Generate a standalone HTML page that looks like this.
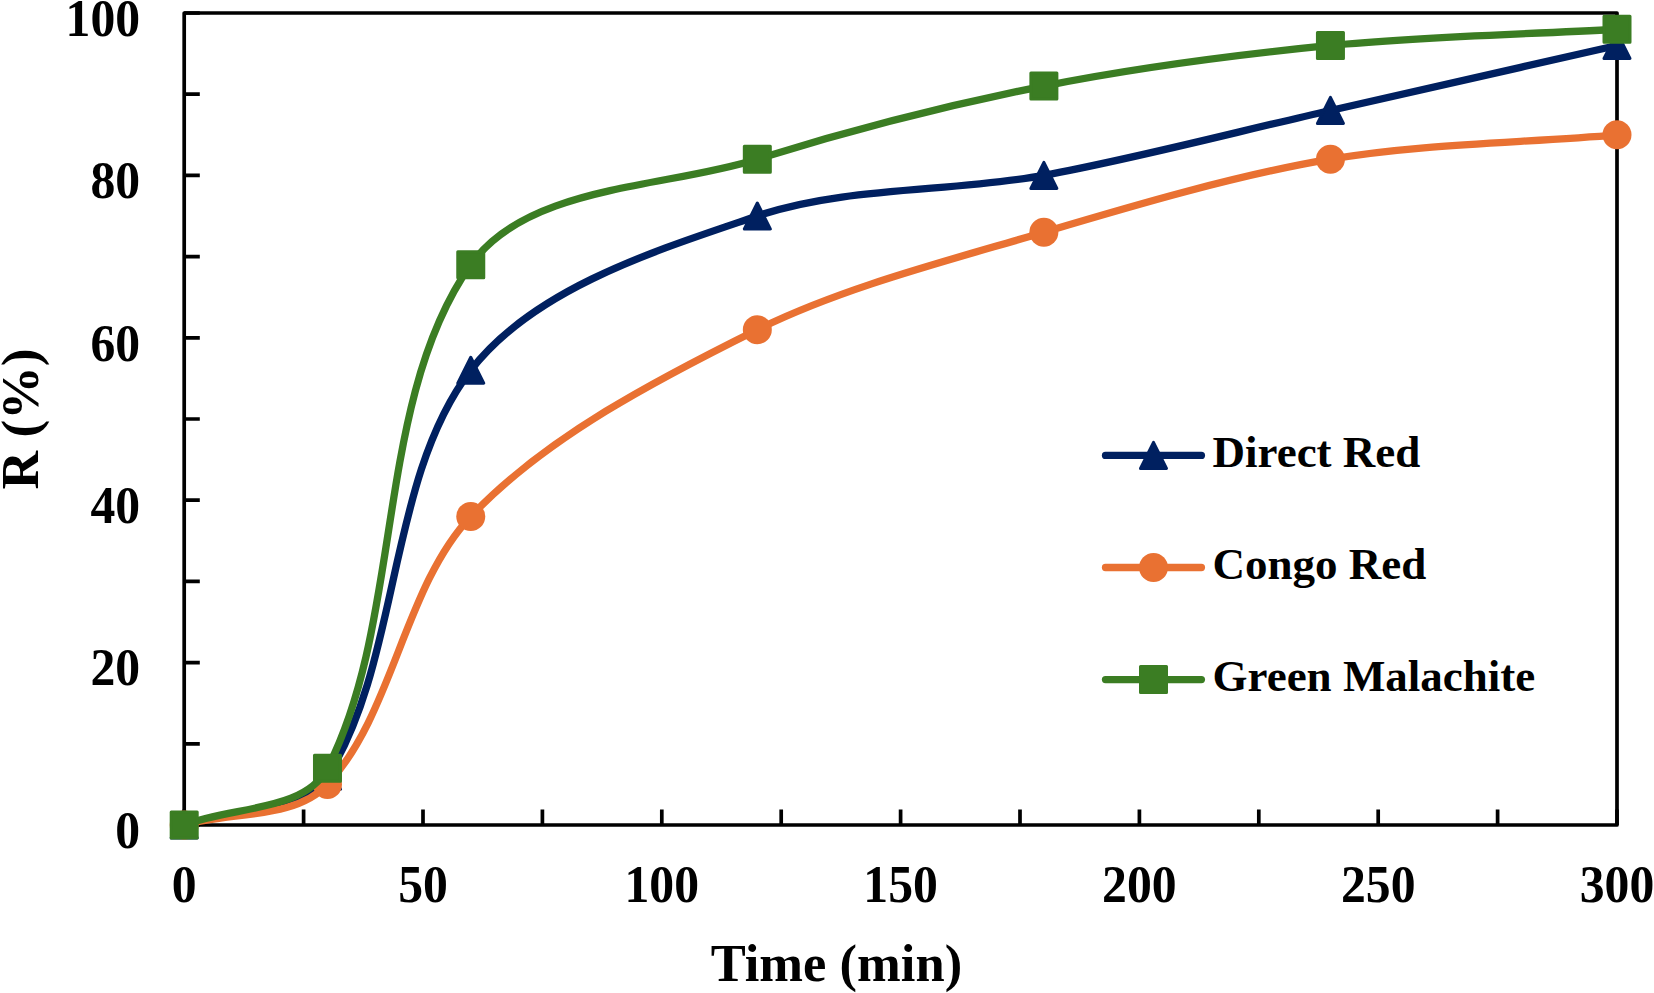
<!DOCTYPE html>
<html lang="en"><head><meta charset="utf-8"><title>R (%) vs Time (min)</title>
<style>html,body{margin:0;padding:0;background:#fff;overflow:hidden}svg{display:block}text{font-family:"Liberation Serif","Times New Roman",serif;font-weight:bold;fill:#000}</style></head><body>
<svg width="1654" height="993" viewBox="0 0 1654 993">
<rect width="1654" height="993" fill="#fff"/>
<rect x="184.20" y="13.00" width="1432.80" height="812.00" fill="none" stroke="#000" stroke-width="3.7" stroke-linejoin="round"/>
<path d="M184.20 825.00 V809.40 M303.60 825.00 V809.40 M423.00 825.00 V809.40 M542.40 825.00 V809.40 M661.80 825.00 V809.40 M781.20 825.00 V809.40 M900.60 825.00 V809.40 M1020.00 825.00 V809.40 M1139.40 825.00 V809.40 M1258.80 825.00 V809.40 M1378.20 825.00 V809.40 M1497.60 825.00 V809.40 M1617.00 825.00 V809.40 M184.20 825.00 H199.80 M184.20 743.80 H199.80 M184.20 662.60 H199.80 M184.20 581.40 H199.80 M184.20 500.20 H199.80 M184.20 419.00 H199.80 M184.20 337.80 H199.80 M184.20 256.60 H199.80 M184.20 175.40 H199.80 M184.20 94.20 H199.80 M184.20 13.00 H199.80" stroke="#000" stroke-width="3.7" fill="none"/>
<path d="M184.20 825.00 C231.96 808.76 301.66 817.25 327.48 776.28 C400.93 659.72 386.90 479.59 470.76 370.28 C534.15 287.65 658.72 249.53 757.32 216.00 C845.00 186.18 952.80 192.18 1043.88 175.40 C1136.35 158.37 1238.74 131.23 1330.44 110.44 C1422.14 89.65 1521.48 67.13 1617.00 45.48" fill="none" stroke="#002060" stroke-width="7.3" stroke-linecap="round" stroke-linejoin="round"/>
<polygon points="184.20,812.00 197.20,838.00 171.20,838.00" fill="#002060" stroke="#002060" stroke-width="3.0" stroke-linejoin="round"/>
<polygon points="327.48,763.28 340.48,789.28 314.48,789.28" fill="#002060" stroke="#002060" stroke-width="3.0" stroke-linejoin="round"/>
<polygon points="470.76,357.28 483.76,383.28 457.76,383.28" fill="#002060" stroke="#002060" stroke-width="3.0" stroke-linejoin="round"/>
<polygon points="757.32,203.00 770.32,229.00 744.32,229.00" fill="#002060" stroke="#002060" stroke-width="3.0" stroke-linejoin="round"/>
<polygon points="1043.88,162.40 1056.88,188.40 1030.88,188.40" fill="#002060" stroke="#002060" stroke-width="3.0" stroke-linejoin="round"/>
<polygon points="1330.44,97.44 1343.44,123.44 1317.44,123.44" fill="#002060" stroke="#002060" stroke-width="3.0" stroke-linejoin="round"/>
<polygon points="1617.00,32.48 1630.00,58.48 1604.00,58.48" fill="#002060" stroke="#002060" stroke-width="3.0" stroke-linejoin="round"/>
<path d="M184.20 825.00 C231.96 811.47 295.05 819.32 327.48 784.40 C393.65 713.15 403.96 587.10 470.76 516.44 C545.95 436.90 659.26 378.31 757.32 329.68 C844.09 286.65 951.05 259.86 1043.88 232.24 C1134.58 205.25 1237.14 175.02 1330.44 159.16 C1421.17 143.73 1521.48 142.92 1617.00 134.80" fill="none" stroke="#E97132" stroke-width="7.3" stroke-linecap="round" stroke-linejoin="round"/>
<circle cx="184.20" cy="825.00" r="14.50" fill="#E97132"/>
<circle cx="327.48" cy="784.40" r="14.50" fill="#E97132"/>
<circle cx="470.76" cy="516.44" r="14.50" fill="#E97132"/>
<circle cx="757.32" cy="329.68" r="14.50" fill="#E97132"/>
<circle cx="1043.88" cy="232.24" r="14.50" fill="#E97132"/>
<circle cx="1330.44" cy="159.16" r="14.50" fill="#E97132"/>
<circle cx="1617.00" cy="134.80" r="14.50" fill="#E97132"/>
<path d="M184.20 825.00 C231.96 806.05 305.02 812.08 327.48 768.16 C403.75 619.03 374.17 401.57 470.76 264.72 C527.11 184.88 664.02 188.24 757.32 159.16 C847.67 131.00 951.05 104.49 1043.88 86.08 C1134.73 68.06 1238.28 54.62 1330.44 45.48 C1421.84 36.42 1521.48 34.65 1617.00 29.24" fill="none" stroke="#3B7D23" stroke-width="7.3" stroke-linecap="round" stroke-linejoin="round"/>
<rect x="171.20" y="812.00" width="26.00" height="26.00" fill="#3B7D23" stroke="#3B7D23" stroke-width="3.0" stroke-linejoin="round"/>
<rect x="314.48" y="755.16" width="26.00" height="26.00" fill="#3B7D23" stroke="#3B7D23" stroke-width="3.0" stroke-linejoin="round"/>
<rect x="457.76" y="251.72" width="26.00" height="26.00" fill="#3B7D23" stroke="#3B7D23" stroke-width="3.0" stroke-linejoin="round"/>
<rect x="744.32" y="146.16" width="26.00" height="26.00" fill="#3B7D23" stroke="#3B7D23" stroke-width="3.0" stroke-linejoin="round"/>
<rect x="1030.88" y="73.08" width="26.00" height="26.00" fill="#3B7D23" stroke="#3B7D23" stroke-width="3.0" stroke-linejoin="round"/>
<rect x="1317.44" y="32.48" width="26.00" height="26.00" fill="#3B7D23" stroke="#3B7D23" stroke-width="3.0" stroke-linejoin="round"/>
<rect x="1604.00" y="16.24" width="26.00" height="26.00" fill="#3B7D23" stroke="#3B7D23" stroke-width="3.0" stroke-linejoin="round"/>
<text transform="translate(184.20 902.00) scale(0.9750 1.0150)" font-size="51" text-anchor="middle">0</text>
<text transform="translate(423.00 902.00) scale(0.9750 1.0150)" font-size="51" text-anchor="middle">50</text>
<text transform="translate(661.80 902.00) scale(0.9750 1.0150)" font-size="51" text-anchor="middle">100</text>
<text transform="translate(900.60 902.00) scale(0.9750 1.0150)" font-size="51" text-anchor="middle">150</text>
<text transform="translate(1139.40 902.00) scale(0.9750 1.0150)" font-size="51" text-anchor="middle">200</text>
<text transform="translate(1378.20 902.00) scale(0.9750 1.0150)" font-size="51" text-anchor="middle">250</text>
<text transform="translate(1617.00 902.00) scale(0.9750 1.0150)" font-size="51" text-anchor="middle">300</text>
<text transform="translate(140.20 847.70) scale(0.9750 1.0150)" font-size="51" text-anchor="end">0</text>
<text transform="translate(140.20 685.30) scale(0.9750 1.0150)" font-size="51" text-anchor="end">20</text>
<text transform="translate(140.20 522.90) scale(0.9750 1.0150)" font-size="51" text-anchor="end">40</text>
<text transform="translate(140.20 360.50) scale(0.9750 1.0150)" font-size="51" text-anchor="end">60</text>
<text transform="translate(140.20 198.10) scale(0.9750 1.0150)" font-size="51" text-anchor="end">80</text>
<text transform="translate(140.20 35.70) scale(0.9750 1.0150)" font-size="51" text-anchor="end">100</text>
<text transform="translate(836.40 980.70) scale(1.0105 1.0000)" font-size="52" text-anchor="middle">Time (min)</text>
<text transform="translate(37.60 419.00) rotate(-90) scale(1.0270 1.0000)" font-size="52" text-anchor="middle">R (%)</text>
<path d="M1105.5 455.40 H1201.4" stroke="#002060" stroke-width="7.3" stroke-linecap="round" fill="none"/>
<polygon points="1153.50,442.40 1166.50,468.40 1140.50,468.40" fill="#002060" stroke="#002060" stroke-width="3.0" stroke-linejoin="round"/>
<text x="1212.5" y="467.0" font-size="45">Direct Red</text>
<path d="M1105.5 567.50 H1201.4" stroke="#E97132" stroke-width="7.3" stroke-linecap="round" fill="none"/>
<circle cx="1153.50" cy="567.50" r="14.50" fill="#E97132"/>
<text x="1212.5" y="579.1" font-size="45">Congo Red</text>
<path d="M1105.5 679.60 H1201.4" stroke="#3B7D23" stroke-width="7.3" stroke-linecap="round" fill="none"/>
<rect x="1140.50" y="666.60" width="26.00" height="26.00" fill="#3B7D23" stroke="#3B7D23" stroke-width="3.0" stroke-linejoin="round"/>
<text x="1212.5" y="691.2" font-size="45">Green Malachite</text>
</svg></body></html>
